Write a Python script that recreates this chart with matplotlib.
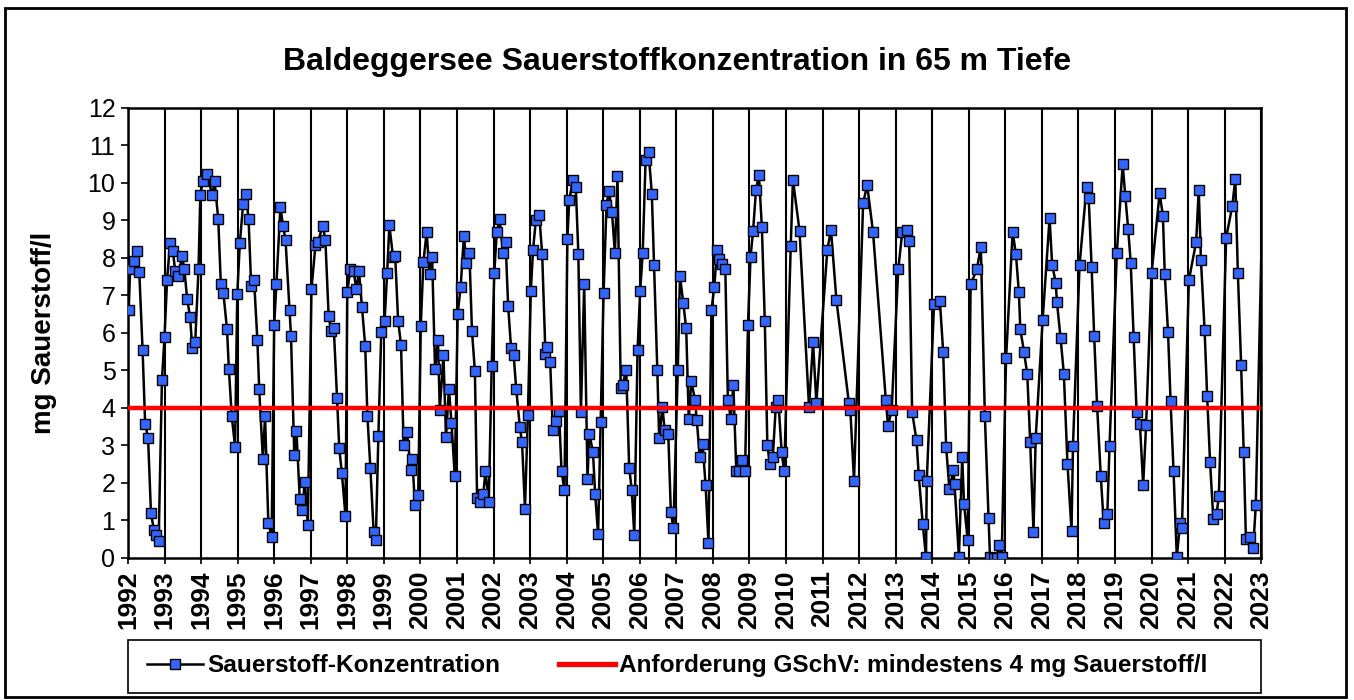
# Baldeggersee: Sauerstoffkonzentration in 65 m Tiefe, 1992-2023.
import matplotlib

matplotlib.use("Agg")
import matplotlib.pyplot as plt
from matplotlib.lines import Line2D
from matplotlib.patches import Rectangle

plt.rcParams["font.family"] = ["Liberation Sans", "DejaVu Sans"]

# Messdatum (Dezimaljahr) und O2 in mg/l
dates = [
    1992.02, 1992.06, 1992.17, 1992.24, 1992.31, 1992.40, 1992.47, 1992.55, 1992.63, 1992.71, 1992.77, 1992.84, 1992.93,
    1993.00, 1993.07, 1993.15, 1993.23, 1993.29, 1993.38, 1993.48, 1993.54, 1993.62, 1993.70, 1993.76, 1993.84, 1993.93, 1993.98,
    1994.05, 1994.15, 1994.31, 1994.37, 1994.47, 1994.54, 1994.61, 1994.71, 1994.76, 1994.84, 1994.93, 1994.99,
    1995.06, 1995.15, 1995.22, 1995.30, 1995.37, 1995.45, 1995.54, 1995.59, 1995.69, 1995.75, 1995.84, 1995.93,
    1996.00, 1996.06, 1996.17, 1996.24, 1996.31, 1996.42, 1996.46, 1996.55, 1996.61, 1996.70, 1996.76, 1996.84, 1996.92,
    1997.02, 1997.13, 1997.19, 1997.33, 1997.40, 1997.49, 1997.56, 1997.63, 1997.72, 1997.78, 1997.85, 1997.95,
    1998.00, 1998.08, 1998.17, 1998.25, 1998.32, 1998.40, 1998.49, 1998.55, 1998.63, 1998.72, 1998.78, 1998.85, 1998.93,
    1999.02, 1999.09, 1999.15, 1999.25, 1999.31, 1999.39, 1999.47, 1999.54, 1999.63, 1999.74, 1999.78, 1999.85, 1999.94,
    2000.01, 2000.08, 2000.17, 2000.25, 2000.32, 2000.40, 2000.48, 2000.53, 2000.63, 2000.70, 2000.78, 2000.85, 2000.94,
    2001.02, 2001.10, 2001.19, 2001.26, 2001.34, 2001.41, 2001.49, 2001.55, 2001.62, 2001.72, 2001.78, 2001.87, 2001.95,
    2002.02, 2002.09, 2002.17, 2002.26, 2002.33, 2002.40, 2002.48, 2002.55, 2002.62, 2002.72, 2002.78, 2002.86, 2002.94,
    2003.02, 2003.08, 2003.16, 2003.25, 2003.33, 2003.42, 2003.47, 2003.55, 2003.62, 2003.70, 2003.79, 2003.86, 2003.94,
    2004.02, 2004.07, 2004.17, 2004.25, 2004.32, 2004.39, 2004.48, 2004.57, 2004.62, 2004.72, 2004.78, 2004.86, 2004.93,
    2005.01, 2005.09, 2005.16, 2005.24, 2005.32, 2005.39, 2005.48, 2005.53, 2005.63, 2005.71, 2005.78, 2005.85, 2005.94,
    2006.01, 2006.08, 2006.16, 2006.24, 2006.33, 2006.39, 2006.48, 2006.53, 2006.62, 2006.68, 2006.78, 2006.85, 2006.92,
    2007.04, 2007.10, 2007.19, 2007.27, 2007.34, 2007.41, 2007.51, 2007.56, 2007.64, 2007.72, 2007.80, 2007.88, 2007.96,
    2008.04, 2008.11, 2008.18, 2008.26, 2008.34, 2008.41, 2008.49, 2008.56, 2008.64, 2008.71, 2008.79, 2008.88, 2008.96,
    2009.03, 2009.10, 2009.18, 2009.26, 2009.34, 2009.42, 2009.49, 2009.56, 2009.64, 2009.72, 2009.79, 2009.88, 2009.95,
    2010.13, 2010.19, 2010.37, 2010.63, 2010.74, 2010.83,
    2011.13, 2011.23, 2011.38, 2011.72, 2011.76, 2011.86,
    2012.11, 2012.22, 2012.38, 2012.73, 2012.79, 2012.89,
    2013.07, 2013.18, 2013.31, 2013.37, 2013.45, 2013.57, 2013.63, 2013.74, 2013.83, 2013.85,
    2014.05, 2014.21, 2014.30, 2014.38, 2014.47, 2014.58, 2014.61, 2014.73, 2014.82, 2014.87, 2014.97,
    2015.05, 2015.22, 2015.33, 2015.44, 2015.54, 2015.58, 2015.68, 2015.76, 2015.82, 2015.90,
    2016.02, 2016.20, 2016.29, 2016.37, 2016.41, 2016.51, 2016.60, 2016.68, 2016.77, 2016.83,
    2017.02, 2017.21, 2017.28, 2017.38, 2017.41, 2017.51, 2017.60, 2017.70, 2017.81, 2017.85,
    2018.03, 2018.22, 2018.28, 2018.36, 2018.43, 2018.51, 2018.61, 2018.69, 2018.79, 2018.85,
    2019.05, 2019.21, 2019.28, 2019.36, 2019.43, 2019.51, 2019.59, 2019.68, 2019.77, 2019.85,
    2020.00, 2020.22, 2020.31, 2020.36, 2020.45, 2020.52, 2020.60, 2020.69, 2020.78, 2020.83,
    2021.02, 2021.22, 2021.29, 2021.35, 2021.45, 2021.52, 2021.60, 2021.69, 2021.78, 2021.84,
    2022.04, 2022.21, 2022.29, 2022.36, 2022.45, 2022.52, 2022.58, 2022.69, 2022.78, 2022.85, 2023.10,
]
oxygen = [
    6.60, 7.71, 7.92, 8.18, 7.62, 5.55, 3.58, 3.20, 1.19, 0.75, 0.60, 0.45, 4.74,
    5.89, 7.40, 8.39, 8.18, 7.66, 7.51, 8.05, 7.71, 6.91, 6.41, 5.59, 5.75, 7.71, 9.68,
    10.06, 10.23, 9.68, 10.04, 9.03, 7.31, 7.07, 6.09, 5.04, 3.77, 2.97, 7.04,
    8.39, 9.43, 9.71, 9.03, 7.26, 7.40, 5.81, 4.51, 2.64, 3.77, 0.94, 0.57,
    6.20, 7.29, 9.36, 8.86, 8.48, 6.62, 5.92, 2.75, 3.37, 1.57, 1.27, 2.03, 0.89,
    7.17, 8.35, 8.41, 8.86, 8.48, 6.44, 6.06, 6.14, 4.25, 2.92, 2.27, 1.12,
    7.09, 7.69, 7.65, 7.16, 7.64, 6.69, 5.65, 3.79, 2.41, 0.70, 0.47, 3.26, 6.03,
    6.32, 7.60, 8.87, 8.03, 8.05, 6.32, 5.68, 3.01, 3.35, 2.35, 2.63, 1.40, 1.69,
    6.18, 7.88, 8.68, 7.58, 8.01, 5.03, 5.81, 3.94, 5.41, 3.21, 4.51, 3.60, 2.18,
    6.51, 7.22, 8.59, 7.85, 8.13, 6.05, 4.98, 1.61, 1.50, 1.70, 2.31, 1.50, 5.12,
    7.59, 8.70, 9.03, 8.12, 8.41, 6.71, 5.59, 5.41, 4.51, 3.48, 3.08, 1.31, 3.81,
    7.11, 8.21, 9.02, 9.14, 8.11, 5.44, 5.61, 5.21, 3.42, 3.65, 3.92, 2.31, 1.81,
    8.50, 9.53, 10.08, 9.90, 8.11, 3.89, 7.29, 2.10, 3.31, 2.82, 1.70, 0.63, 3.62,
    7.05, 9.41, 9.78, 9.21, 8.12, 10.19, 4.52, 4.62, 5.01, 2.41, 1.82, 0.61, 5.54,
    7.11, 8.12, 10.62, 10.82, 9.71, 7.82, 5.01, 3.20, 4.03, 3.40, 3.31, 1.22, 0.80,
    5.01, 7.51, 6.80, 6.12, 3.71, 4.71, 4.22, 3.67, 2.70, 3.04, 1.94, 0.39, 6.60,
    7.23, 8.21, 7.96, 7.84, 7.71, 4.22, 3.71, 4.61, 2.33, 2.33, 2.61, 2.33, 6.22,
    8.02, 8.72, 9.82, 10.21, 8.82, 6.32, 3.02, 2.50, 2.70, 4.03, 4.22, 2.83, 2.31,
    8.32, 10.08, 8.72, 4.03, 5.75, 4.14,
    8.21, 8.75, 6.87, 4.13, 3.95, 2.06,
    9.45, 9.95, 8.69, 4.22, 3.52, 3.94,
    7.69, 8.68, 8.74, 8.45, 3.89, 3.13, 2.22, 0.91, 0.02, 2.04,
    6.78, 6.84, 5.48, 2.97, 1.83, 2.34, 1.97, 0.02, 2.68, 1.45, 0.47,
    7.29, 7.69, 8.30, 3.77, 1.06, 0.02, 0.00, 0.00, 0.34, 0.02,
    5.32, 8.69, 8.09, 7.08, 6.09, 5.50, 4.89, 3.08, 0.69, 3.20,
    6.34, 9.06, 7.82, 7.33, 6.83, 5.87, 4.91, 2.50, 0.73, 2.99,
    7.81, 9.88, 9.59, 7.75, 5.91, 4.05, 2.19, 0.94, 1.18, 2.99,
    8.14, 10.49, 9.66, 8.77, 7.86, 5.89, 3.89, 3.58, 1.95, 3.53,
    7.59, 9.72, 9.12, 7.58, 6.02, 4.17, 2.33, 0.02, 0.94, 0.80,
    7.40, 8.43, 9.82, 7.95, 6.08, 4.32, 2.55, 1.03, 1.18, 1.65,
    8.54, 9.39, 10.11, 7.60, 5.13, 2.82, 0.51, 0.57, 0.27, 1.40, 12.40,
]
years = list(range(1992, 2024))
limit_value = 4  # GSchV-Anforderung

fig = plt.figure(figsize=(13.54, 7.0), dpi=100)
ax = fig.add_axes([0.0945, 0.203, 0.837, 0.643])

for yr in years:
    ax.axvline(yr, color="black", lw=1.5, zorder=1)

ax.plot(dates, oxygen, "-s", color="black", lw=1.8, ms=7.2,
        mfc="#3366ff", mec="black", mew=1.0, zorder=3, clip_on=True)
ax.axhline(limit_value, color="red", lw=3.2, zorder=4)

ax.set_xlim(1992, 2023)
ax.set_ylim(0, 12)
ax.set_yticks(range(0, 13))
ax.set_xticks(years)
ax.set_xticklabels([str(y) for y in years], rotation=90, fontweight="bold", fontsize=19)
ax.tick_params(axis="y", labelsize=18, direction="out", length=5, width=1.2, pad=4)
ax.tick_params(axis="x", direction="out", length=4, width=1.2, pad=5)
for sp in ax.spines.values():
    sp.set_linewidth(1.8)

ax.set_ylabel("mg Sauerstoff/l", fontsize=20, fontweight="bold", labelpad=22)
fig.text(0.5, 0.911, "Baldeggersee Sauerstoffkonzentration in 65 m Tiefe",
         ha="center", va="center", fontsize=23, fontweight="bold")

handles = [
    Line2D([], [], color="black", lw=1.8, marker="s", ms=7.2, mfc="#3366ff", mec="black"),
    Line2D([], [], color="red", lw=3.8),
]
labels = ["Sauerstoff-Konzentration", "Anforderung GSchV: mindestens 4 mg Sauerstoff/l"]
fig.legend(handles, labels, loc="center", bbox_to_anchor=(0.5, 0.049), ncol=2,
           frameon=False, prop={"weight": "bold", "size": 17.6},
           handlelength=2.3, handletextpad=0.15, columnspacing=2.4)

fig.add_artist(Rectangle((0.0945, 0.01), 0.837, 0.076, transform=fig.transFigure,
                         fill=False, ec="black", lw=1.2))
fig.add_artist(Rectangle((0.004, 0.004), 0.99, 0.985, transform=fig.transFigure,
                         fill=False, ec="black", lw=2.0))

fig.savefig("out.png", dpi=100)
